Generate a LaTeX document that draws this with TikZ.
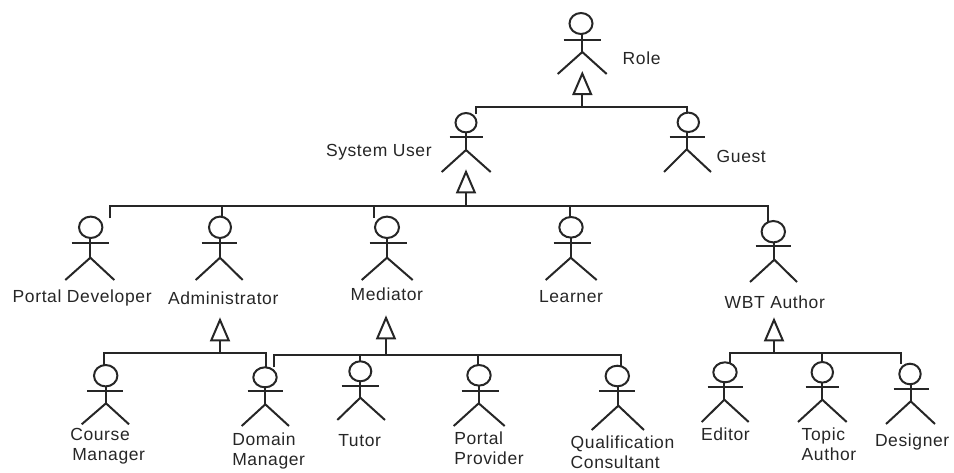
\documentclass[tikz,border=0pt]{standalone}
\usepackage{fontspec}
\setmainfont[LetterSpace=3.5]{Liberation Sans}
\usetikzlibrary{shapes.geometric,arrows.meta}
\definecolor{ink}{HTML}{262626}
\tikzset{
  conn/.style={draw=ink,line width=2pt},
  gen/.style={draw=ink,line width=2pt,miter limit=10,shorten >=-2pt,-{Triangle[open,length=24pt,width=20pt]}},
  headshape/.style={ellipse,draw=ink,line width=2pt,inner sep=0pt,outer sep=0pt},
  lab/.style={inner sep=0pt,outer sep=0pt,text=ink,font=\fontsize{17.5}{20.2}\selectfont,align=left},
}
\begin{document}
\begin{tikzpicture}[x=1pt,y=-1pt]
\useasboundingbox (0,0) rectangle (954,472);
% actors: name / head x / head y / rx / ry / body x / arm y / arm L / arm R / crotch y / leg L / leg R / leg y
\foreach \n/\hx/\hy/\rx/\ry/\bx/\ay/\al/\ar/\cy/\ll/\lr/\ly in {
  role/581/23.5/11.5/10.5/582.3/39.5/563.7/601/52/557.7/606.7/74,
  sysuser/466/122.7/10.5/9.7/466/137.3/449.7/483/150/441.7/490.7/172,
  guest/688.3/122.3/10.7/9.7/686.7/137.3/669.7/705.3/149.3/664/711/172,
  pdev/90.7/227.3/11.7/10.7/90.3/243.3/71.7/108.7/257.7/65.3/114.3/280,
  admin/220/227.3/11/10.7/220/243.3/201.7/236.7/257.7/195.7/242.7/280,
  mediator/387/227.3/12/10.7/387/243.3/369.7/407/257.7/361.7/412.7/280,
  learner/571/227.3/11.7/10.3/570.7/243.3/553.7/591/257.7/545.7/596.7/280,
  wbt/773.3/231.7/11.7/10.7/774.3/245.7/755.7/791/259.7/750/797/282,
  course/105.7/375.7/11.7/10.7/106/391.3/87.3/122.7/403.3/81.7/129/424.3,
  domain/265/377.3/11.7/10/265.3/391.3/247.7/283/404.3/241.7/289/426,
  tutor/360.3/371.3/11/10/360.3/385.7/341.7/379/397.7/337.3/385/420,
  pprov/479/375.3/11.7/10.3/478.7/391.3/461.7/499/403.3/453.7/504.7/426,
  qual/617.3/376/11.7/10.3/618.3/391.3/599.3/635/405.7/591.7/644/430,
  editor/725/372.3/11.7/10/724.3/387.3/707.7/742.7/399.7/701.7/748.7/422,
  topic/822.3/372.3/10.7/10.3/822.3/387.3/805.7/839/399.7/798/846.7/422,
  designer/910/374/10.7/10.3/910.7/389.3/893.7/929.3/401.3/886/935/424%
}{
  \node[headshape,minimum width=2*\rx pt,minimum height=2*\ry pt] (\n) at (\hx,\hy) {};
  \coordinate (\n-crotch) at (\bx,\cy);
  \coordinate (\n-neck) at (\bx,\hy+\ry);
  \coordinate (\n-armL) at (\al,\ay);
  \coordinate (\n-armR) at (\ar,\ay);
  \coordinate (\n-legL) at (\ll,\ly);
  \coordinate (\n-legR) at (\lr,\ly);
  \draw[conn] (\n-neck) -- (\n-crotch);
  \draw[conn] (\n-armL) -- (\n-armR);
  \draw[conn] (\n-legL) -- (\n-crotch) -- (\n-legR);
}
% labels
\foreach \n/\x/\y/\t in {
  lrole/622.7/64.5/{Role},
  lsys/326/156/{System User},
  lguest/716.7/162.5/{Guest},
  lpdev/12.7/302.5/{Portal Developer},
  ladmin/168/304/{Administrator},
  lmed/350.7/300/{Mediator},
  llearn/539/302.5/{Learner},
  lwbt/724.7/308/{WBT Author},
  ltut/338.3/446/{Tutor},
  ledit/701/440/{Editor},
  ldes/875/446.5/{Designer}%
}{
  \node[lab,anchor=base west] (\n) at (\x,\y) {\t};
}
\foreach \n/\x/\y/\t in {
  lcourse/70.3/428/{Course\\\hspace*{2pt}Manager},
  ldomain/232.3/432.8/{Domain\\Manager},
  lpprov/454.3/432/{Portal\\Provider},
  lqual/570.7/436/{Qualification\\Consultant},
  ltopic/801.7/428/{Topic\\Author}%
}{
  \node[lab,anchor=north west] (\n) at (\x,\y) {\t};
}
% connector points
\coordinate (barA) at (582.3,107.3);
\coordinate (apexA) at (582.3,73);
\coordinate (tipSys) at (476,114);
\coordinate (tipGuest) at (686.7,113);
\coordinate (barB) at (466,205.5);
\coordinate (apexB) at (466,171.3);
\coordinate (tipPdev) at (110,218.3);
\coordinate (tipAdmin) at (222,216.7);
\coordinate (tipMed) at (374.3,218.3);
\coordinate (tipLearn) at (570.3,217);
\coordinate (tipWbt) at (768.3,221.7);
\coordinate (barC) at (220,353.3);
\coordinate (apexC) at (220,319.3);
\coordinate (tipCourse) at (104,365);
\coordinate (tipDomA) at (266,367.7);
\coordinate (barD) at (386,355);
\coordinate (apexD) at (386,317.3);
\coordinate (tipDomB) at (274,367.3);
\coordinate (tipTut) at (360.3,361.3);
\coordinate (tipProv) at (478.3,365);
\coordinate (tipQual) at (620.7,365.7);
\coordinate (barE) at (774,353.3);
\coordinate (apexE) at (774,319.3);
\coordinate (tipEd) at (730.3,363);
\coordinate (tipTop) at (822.3,362);
\coordinate (tipDes) at (900.7,364);
% generalisation arrows
\draw[gen] (barA) -- (apexA);
\draw[gen] (barB) -- (apexB);
\draw[gen] (barC) -- (apexC);
\draw[gen] (barD) -- (apexD);
\draw[gen] (barE) -- (apexE);
% bars
\draw[conn] (tipSys) |- (barA) -| (tipGuest);
\draw[conn] (tipPdev) |- (barB) -| (tipWbt);
\draw[conn] (barB -| tipAdmin) -- (tipAdmin);
\draw[conn] (barB -| tipMed) -- (tipMed);
\draw[conn] (barB -| tipLearn) -- (tipLearn);
\draw[conn] (tipCourse) |- (barC) -| (tipDomA);
\draw[conn] (tipDomB) |- (barD) -| (tipQual);
\draw[conn] (barD -| tipTut) -- (tipTut);
\draw[conn] (barD -| tipProv) -- (tipProv);
\draw[conn] (tipEd) |- (barE) -| (tipDes);
\draw[conn] (barE -| tipTop) -- (tipTop);
\end{tikzpicture}
\end{document}
